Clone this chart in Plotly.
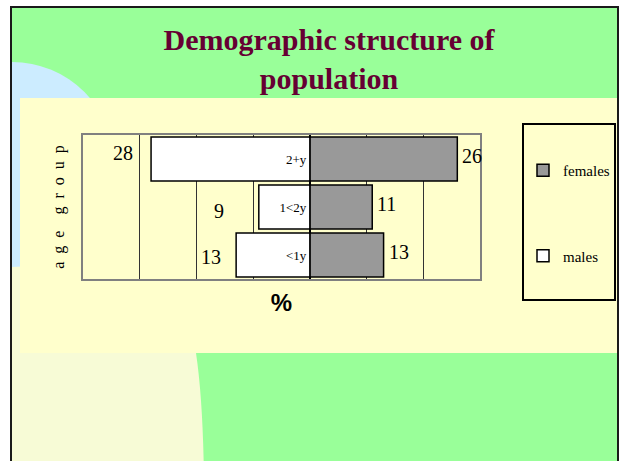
import plotly.graph_objects as go

# ---------------- data ----------------
categories = ["2+y", "1<2y", "<1y"]          # top to bottom
females = [26, 11, 13]
males = [28, 9, 13]
series_names = ["females", "males"]
title_text = "Demographic structure of<br>population"
x_title = "%"
y_title = "age group"

# ---------------- styles ----------------
male_label_shift = [(-16, 6), (-33, -4), (-13, -2)]
female_label_shift = [(3, 3), (3, 3), (3, 3)]

W, H = 620, 461
PL, PR, PT, PB = 83, 480, 135, 279   # plot area in pixels


def px(x):
    return (x - PL) / (PR - PL)


def py(y):
    return (PB - y) / (PB - PT)


SERIF = "Liberation Serif, Times New Roman, serif"
SANS = "Liberation Sans, Arial, sans-serif"

fig = go.Figure()
fig.add_trace(go.Bar(
    y=categories, x=females, orientation="h", name=series_names[0],
    legendgroup="f",
    marker=dict(color="#999999", line=dict(color="black", width=1.5)),
    hoverinfo="x+y",
))
fig.add_trace(go.Bar(
    y=categories, x=[-v for v in males], orientation="h", name=series_names[1],
    legendgroup="m",
    marker=dict(color="white", line=dict(color="black", width=1.5)),
    text=[c.replace("<", "&lt;") for c in categories],
    textposition="inside", insidetextanchor="start", textangle=0,
    textfont=dict(family=SERIF, size=13, color="black"),
    hoverinfo="x+y",
))

annotations = []
for cat, v, (dx, dy) in zip(categories, males, male_label_shift):
    annotations.append(dict(x=-v, y=cat, xref="x", yref="y", text=str(v),
                            showarrow=False, xanchor="right", yanchor="middle",
                            xshift=dx, yshift=dy,
                            font=dict(family=SERIF, size=20, color="black")))
for cat, v, (dx, dy) in zip(categories, females, female_label_shift):
    annotations.append(dict(x=v, y=cat, xref="x", yref="y", text=str(v),
                            showarrow=False, xanchor="left", yanchor="middle",
                            xshift=dx, yshift=dy,
                            font=dict(family=SERIF, size=20, color="black")))

shapes = [
    # green slide
    dict(type="rect", xref="paper", yref="paper", x0=px(11), x1=px(618), y0=py(7), y1=py(480),
         fillcolor="#99FF99", line=dict(width=0), layer="below"),
    # light cream shape bottom-left
    dict(type="path", xref="paper", yref="paper",
         path=f"M {px(11)},{py(262)} L {px(196)},{py(262)} L {px(196)},{py(353)} "
              f"Q {px(203)},{py(400)} {px(204)},{py(480)} L {px(11)},{py(480)} Z",
         fillcolor="#F7FBD6", line=dict(width=0), layer="below"),
    # light blue circle top-left
    dict(type="circle", xref="paper", yref="paper", x0=px(-90.5), x1=px(114.5), y0=py(62), y1=py(267),
         fillcolor="#CCECFF", line=dict(width=0), layer="below"),
    # yellow panel
    dict(type="rect", xref="paper", yref="paper", x0=px(20), x1=px(618), y0=py(98), y1=py(353),
         fillcolor="#FFFFCC", line=dict(width=0), layer="below"),
    # white outside margins
    dict(type="rect", xref="paper", yref="paper", x0=px(-5), x1=px(10), y0=py(-5), y1=py(480),
         fillcolor="white", line=dict(width=0), layer="below"),
    dict(type="rect", xref="paper", yref="paper", x0=px(-5), x1=px(630), y0=py(-5), y1=py(6),
         fillcolor="white", line=dict(width=0), layer="below"),
    dict(type="rect", xref="paper", yref="paper", x0=px(619), x1=px(630), y0=py(-5), y1=py(480),
         fillcolor="white", line=dict(width=0), layer="below"),
    # slide border
    dict(type="line", xref="paper", yref="paper", x0=px(10), x1=px(619), y0=py(7), y1=py(7),
         line=dict(color="#1a1a1a", width=2), layer="below"),
    dict(type="line", xref="paper", yref="paper", x0=px(11), x1=px(11), y0=py(7), y1=py(480),
         line=dict(color="#1a1a1a", width=2), layer="below"),
    dict(type="line", xref="paper", yref="paper", x0=px(618), x1=px(618), y0=py(7), y1=py(480),
         line=dict(color="#1a1a1a", width=2), layer="below"),
    # legend box
    dict(type="rect", xref="paper", yref="paper", x0=px(523), x1=px(615), y0=py(124), y1=py(300),
         fillcolor="rgba(0,0,0,0)", line=dict(color="black", width=2), layer="below"),
]

nb = "\u00a0"
y_title_spaced = (nb * 4).join((nb * 2).join(list(w)) for w in y_title.split(" "))

fig.update_layout(
    width=W, height=H,
    margin=dict(l=PL, r=W - PR, t=PT, b=H - PB, pad=0, autoexpand=False),
    paper_bgcolor="white",
    plot_bgcolor="#FFFFCC",
    barmode="overlay",
    bargap=0.08,
    title=dict(text=title_text, xref="container", yref="container",
               x=329 / W, xanchor="center", y=1 - 50 / H, yanchor="top",
               font=dict(family=SERIF, size=30, color="#660033", weight="bold")),
    xaxis=dict(range=[-40, 30], dtick=10, tick0=0, showticklabels=False, ticks="",
               showgrid=True, gridcolor="#333333", gridwidth=1,
               zeroline=True, zerolinecolor="black", zerolinewidth=2,
               showline=True, linecolor="#808080", linewidth=2, mirror=True,
               title=dict(text=x_title, standoff=14,
                          font=dict(family=SANS, size=24, color="black", weight="bold"))),
    yaxis=dict(type="category", autorange="reversed", showticklabels=False, ticks="",
               showgrid=False, zeroline=False,
               showline=True, linecolor="#808080", linewidth=2, mirror=True,
               title=dict(text=y_title_spaced, standoff=12,
                          font=dict(family=SERIF, size=16, color="black"))),
    showlegend=True,
    legend=dict(x=px(523), xanchor="left", y=py(154), yanchor="top",
                bgcolor="rgba(0,0,0,0)", borderwidth=0,
                traceorder="grouped", tracegroupgap=63,
                font=dict(family=SERIF, size=15, color="black")),
    annotations=annotations,
    shapes=shapes,
)

fig.write_html("out.html", config={"displayModeBar": False},
               post_script="document.body.style.margin='0px';")
